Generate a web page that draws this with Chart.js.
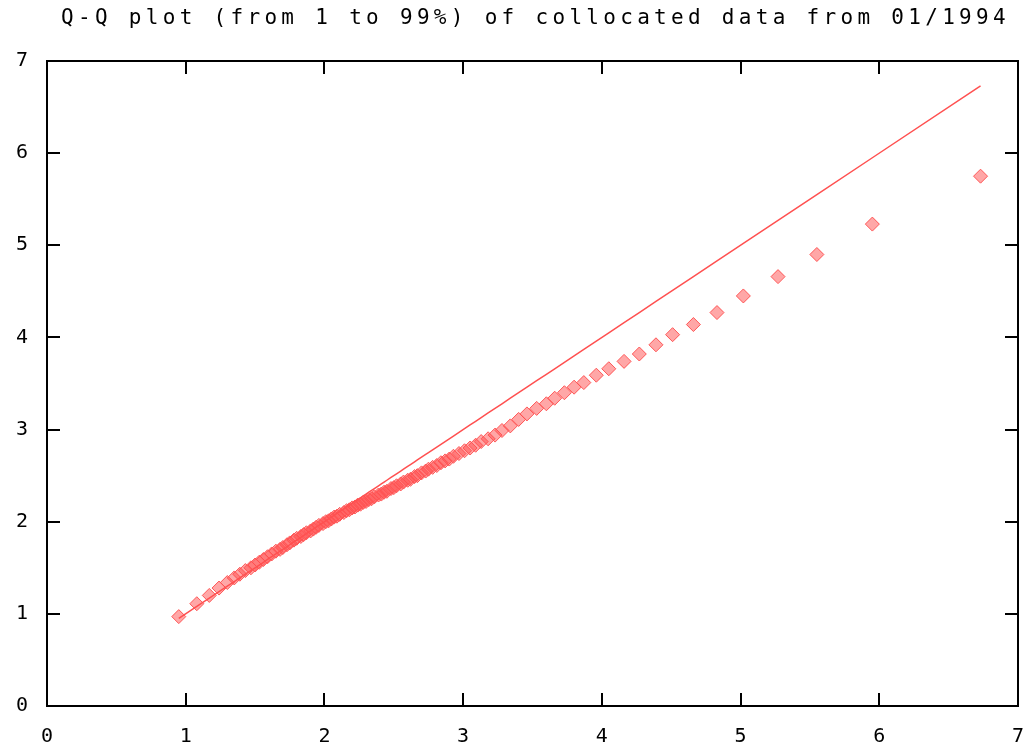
<!DOCTYPE html>
<html>
<head>
<title>Q-Q plot</title>
<script src="https://cdn.jsdelivr.net/npm/chart.js"></script>
<style>
  html, body { margin: 0; padding: 0; background: #fff; }
  #wrap { width: 1036px; height: 752px; }
</style>
</head>
<body>
<div id="wrap"><canvas id="qq"></canvas></div>
<script>
// quantiles 1..99 %
const refQuantiles = [
  0.95, 1.08, 1.17, 1.24, 1.30, 1.35, 1.39, 1.43, 1.47, 1.50,
  1.53, 1.56, 1.59, 1.62, 1.65, 1.68, 1.70, 1.73, 1.75, 1.78,
  1.80, 1.83, 1.85, 1.87, 1.90, 1.92, 1.94, 1.96, 1.99, 2.01,
  2.03, 2.05, 2.07, 2.09, 2.11, 2.14, 2.16, 2.18, 2.20, 2.22,
  2.24, 2.26, 2.28, 2.30, 2.32, 2.34, 2.36, 2.39, 2.41, 2.43,
  2.45, 2.48, 2.50, 2.52, 2.55, 2.57, 2.60, 2.62, 2.65, 2.67,
  2.70, 2.73, 2.75, 2.78, 2.81, 2.84, 2.87, 2.90, 2.93, 2.97,
  3.01, 3.05, 3.09, 3.13, 3.18, 3.23, 3.28, 3.34, 3.40, 3.46,
  3.53, 3.60, 3.66, 3.73, 3.80, 3.87, 3.96, 4.05, 4.16, 4.27,
  4.39, 4.51, 4.66, 4.83, 5.02, 5.27, 5.55, 5.95, 6.73
];
const collocQuantiles = [
  0.97, 1.11, 1.20, 1.28, 1.34, 1.39, 1.43, 1.47, 1.50, 1.53,
  1.56, 1.59, 1.62, 1.65, 1.68, 1.70, 1.72, 1.75, 1.77, 1.80,
  1.82, 1.84, 1.86, 1.88, 1.90, 1.92, 1.94, 1.96, 1.98, 2.00,
  2.01, 2.03, 2.05, 2.06, 2.08, 2.10, 2.12, 2.13, 2.15, 2.16,
  2.18, 2.19, 2.21, 2.22, 2.24, 2.25, 2.27, 2.29, 2.30, 2.32,
  2.33, 2.36, 2.37, 2.39, 2.41, 2.43, 2.45, 2.46, 2.49, 2.50,
  2.53, 2.55, 2.57, 2.59, 2.61, 2.64, 2.66, 2.68, 2.71, 2.74,
  2.77, 2.80, 2.83, 2.87, 2.90, 2.94, 2.99, 3.04, 3.11, 3.17,
  3.23, 3.28, 3.34, 3.40, 3.46, 3.51, 3.59, 3.66, 3.74, 3.82,
  3.92, 4.03, 4.14, 4.27, 4.45, 4.66, 4.90, 5.23, 5.75
];
const axisTicks = [0, 1, 2, 3, 4, 5, 6, 7];
const titleText = 'Q-Q plot (from 1 to 99%) of collocated data from 01/1994';

const RED = '#ff5050';
const FONT = '"DejaVu Sans Mono", monospace';

// gnuplot style frame: box round the plot with short ticks pointing inward
const framePlugin = {
  id: 'frame',
  afterDraw(chart) {
    const ctx = chart.ctx, a = chart.chartArea;
    const xs = chart.scales.x, ys = chart.scales.y;
    const t = 13;
    ctx.save();
    ctx.strokeStyle = '#000';
    ctx.lineWidth = 2;
    ctx.strokeRect(a.left, a.top, a.right - a.left, a.bottom - a.top);
    ctx.beginPath();
    axisTicks.forEach(v => {
      const px = Math.round(xs.getPixelForValue(v));
      ctx.moveTo(px, a.bottom); ctx.lineTo(px, a.bottom - t);
      ctx.moveTo(px, a.top); ctx.lineTo(px, a.top + t);
      const py = Math.round(ys.getPixelForValue(v));
      ctx.moveTo(a.left, py); ctx.lineTo(a.left + t, py);
      ctx.moveTo(a.right, py); ctx.lineTo(a.right - t, py);
    });
    ctx.stroke();
    // title
    ctx.fillStyle = '#000';
    ctx.font = '21px ' + FONT;
    ctx.letterSpacing = '4.3px';
    ctx.textAlign = 'center';
    ctx.textBaseline = 'middle';
    ctx.fillText(titleText, (a.left + a.right) / 2 + 3, 19);
    ctx.restore();
  }
};

const linePts = refQuantiles.map(v => ({ x: v, y: v }));
const qqPts = refQuantiles.map((v, i) => ({ x: v, y: collocQuantiles[i] }));

new Chart(document.getElementById('qq'), {
  type: 'scatter',
  data: {
    datasets: [
      {
        label: 'y = x',
        data: linePts,
        showLine: true,
        borderColor: RED,
        borderWidth: 1.5,
        pointRadius: 0,
        fill: false
      },
      {
        label: 'quantiles',
        data: qqPts,
        pointStyle: 'rectRot',
        pointRadius: 7,
        pointBackgroundColor: 'rgba(255,80,80,0.5)',
        pointBorderColor: 'rgba(255,80,80,0.95)',
        pointBorderWidth: 1
      }
    ]
  },
  options: {
    responsive: true,
    maintainAspectRatio: false,
    animation: false,
    layout: { padding: { top: 61, right: 18, left: 0, bottom: 0 } },
    plugins: {
      legend: { display: false },
      title: { display: false },
      tooltip: { enabled: false }
    },
    scales: {
      x: {
        type: 'linear',
        min: 0, max: 7,
        grid: { display: false, drawTicks: false },
        border: { display: false },
        afterBuildTicks: s => { s.ticks = axisTicks.map(v => ({ value: v })); },
        afterFit: s => { s.height = 46; s.paddingLeft = 0; s.paddingRight = 0; },
        ticks: {
          color: '#000',
          padding: 19,
          maxRotation: 0,
          font: { family: FONT, size: 20 }
        }
      },
      y: {
        type: 'linear',
        min: 0, max: 7,
        grid: { display: false, drawTicks: false },
        border: { display: false },
        afterBuildTicks: s => { s.ticks = axisTicks.map(v => ({ value: v })); },
        afterFit: s => { s.width = 47; s.paddingTop = 0; s.paddingBottom = 0; },
        ticks: {
          color: '#000',
          padding: 19,
          font: { family: FONT, size: 20 }
        }
      }
    }
  },
  plugins: [framePlugin]
});
</script>
</body>
</html>
